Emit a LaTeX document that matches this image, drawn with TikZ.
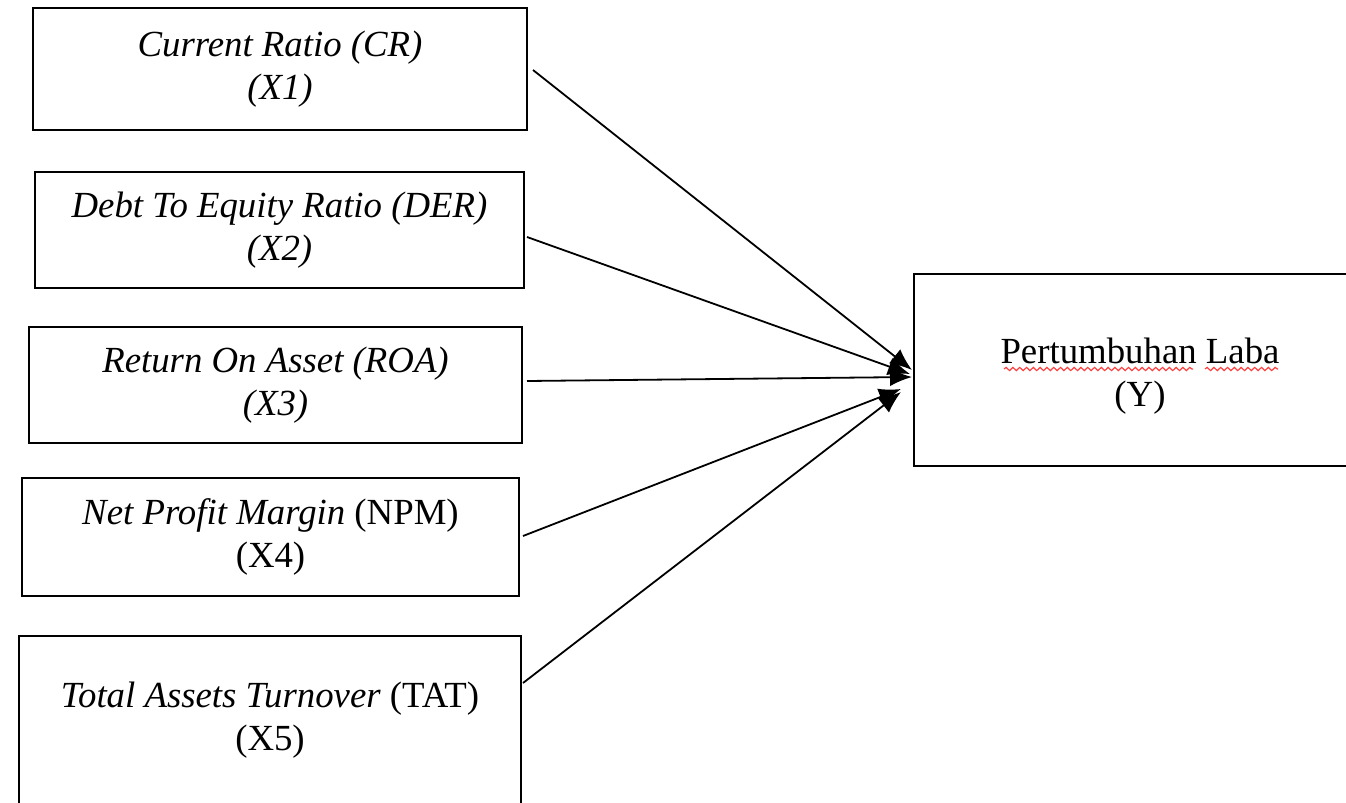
\documentclass[tikz,border=0pt]{standalone}
\usepackage{fontspec}
\setmainfont{Liberation Serif}
\usetikzlibrary{arrows.meta,decorations.pathmorphing}
\begin{document}
\begin{tikzpicture}[x=0.5pt,y=-0.5pt,
  box/.style={draw=black,line width=1.3pt,rectangle,align=center,inner sep=0pt,
    font=\fontsize{18.4}{21.5}\selectfont},
  conn/.style={line width=0.9pt,-{Latex[length=11pt,width=9pt]}},
  wavy/.style={draw=red!75,line width=0.6pt,decorate,decoration={snake,segment length=3.4pt,amplitude=0.8pt}}]
\useasboundingbox (0,0) rectangle (1346,803);
\node[box,minimum width=247pt,minimum height=61pt] (x1) at (280,69) {\textit{Current Ratio (CR)}\\\textit{(X1)}};
\node[box,minimum width=244.5pt,minimum height=58pt] (x2) at (279.5,230) {\textit{Debt To Equity Ratio (DER)}\\\textit{(X2)}};
\node[box,minimum width=246.5pt,minimum height=58pt] (x3) at (275.5,385) {\textit{Return On Asset (ROA)}\\\textit{(X3)}};
\node[box,minimum width=248.5pt,minimum height=59pt] (x4) at (270.5,537) {\textit{Net Profit Margin} (NPM)\\(X4)};
\node[box,minimum width=251pt,minimum height=84pt] (x5) at (270,720) {\textit{Total Assets Turnover} (TAT)\\(X5)};
\node[box,minimum width=226pt,minimum height=96pt] (y) at (1140,370) {};
\node[font=\fontsize{18.4}{21.5}\selectfont,align=center,inner sep=0pt] (ylab) at (1140,376) {Pertumbuhan Laba\\(Y)};
\draw[wavy] (1004,369) -- (1193,369);
\draw[wavy] (1205,369) -- (1278,369);
\coordinate (s1) at (533,70);
\coordinate (s2) at (527,237);
\coordinate (s3) at (527,381);
\coordinate (s4) at (523,536);
\coordinate (s5) at (523,683);
\coordinate (t1) at (912,370);
\coordinate (t2) at (910,374);
\coordinate (t3) at (912,377);
\coordinate (t4) at (901,389);
\coordinate (t5) at (901,392);
\draw[conn] (s1) -- (t1);
\draw[conn] (s2) -- (t2);
\draw[conn] (s3) -- (t3);
\draw[conn] (s4) -- (t4);
\draw[conn] (s5) -- (t5);
\end{tikzpicture}
\end{document}
